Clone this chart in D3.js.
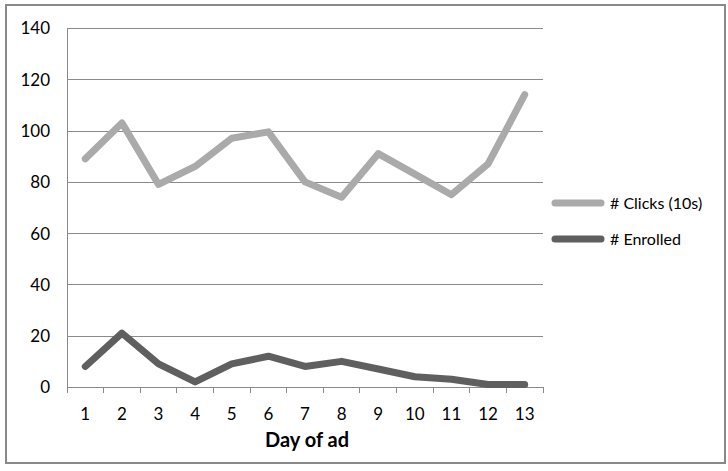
<!DOCTYPE html>
<html>
<head>
<meta charset="utf-8">
<script src="https://cdn.jsdelivr.net/npm/d3@7"></script>
<style>
  body { margin: 0; background: #fff; }
  svg text { font-family: Lato, "Open Sans", sans-serif; fill: #000; }
</style>
</head>
<body>
<div id="graf"></div>
<script>
// Datos
const days = [1, 2, 3, 4, 5, 6, 7, 8, 9, 10, 11, 12, 13];
const clicks = [89, 103, 79, 86, 97, 99.5, 80, 74, 91, 83, 75, 87, 114];
const enrolled = [8, 21, 9, 2, 9, 12, 8, 10, 7, 4, 3, 1, 1];
const yTicks = [0, 20, 40, 60, 80, 100, 120, 140];
const seriesNames = ["# Clicks (10s)", "# Enrolled"];
const seriesColors = ["#aaaaaa", "#5f5f5f"];

const anchoTotal = 728, altoTotal = 471;
const plot = { left: 67, right: 543, top: 28, bottom: 387 };

const svg = d3.select("#graf").append("svg")
  .attr("width", anchoTotal)
  .attr("height", altoTotal);

// Marco
svg.append("rect")
  .attr("x", 6).attr("y", 5)
  .attr("width", 719).attr("height", 458)
  .attr("fill", "#fff")
  .attr("stroke", "#898989")
  .attr("stroke-width", 2);

// Escaladores
const x = d3.scaleBand().domain(days).range([plot.left, plot.right]);
const y = d3.scaleLinear().domain([0, 140]).range([plot.bottom, plot.top]);

// Grid + eje Y
const yAxis = d3.axisLeft(y).tickValues(yTicks).tickSize(-(plot.right - plot.left)).tickPadding(17);
const gy = svg.append("g").attr("transform", `translate(${plot.left},0)`).call(yAxis);
gy.select(".domain").remove();
gy.selectAll(".tick line").attr("stroke", "#8a8a8a").attr("stroke-width", 1).attr("shape-rendering", "crispEdges");
gy.selectAll(".tick text").style("font-size", "17px").attr("dy", "0.35em");

// Eje vertical
svg.append("line")
  .attr("x1", plot.left).attr("x2", plot.left)
  .attr("y1", plot.top).attr("y2", plot.bottom + 6)
  .attr("stroke", "#8a8a8a").attr("shape-rendering", "crispEdges");

// Eje X (marcas en los limites de categoria)
const bounds = days.map(d => x(d)).concat([plot.right]);
svg.append("g").selectAll("line").data(bounds).join("line")
  .attr("x1", d => d).attr("x2", d => d)
  .attr("y1", plot.bottom).attr("y2", plot.bottom + 6)
  .attr("stroke", "#8a8a8a").attr("shape-rendering", "crispEdges");

svg.append("g").selectAll("text").data(days).join("text")
  .attr("x", d => x(d) + x.bandwidth() / 2)
  .attr("y", plot.bottom + 27)
  .attr("dy", "0.35em")
  .attr("text-anchor", "middle")
  .style("font-size", "17px")
  .text(d => d);

svg.append("text")
  .attr("x", 307).attr("y", 440)
  .attr("dy", "0.35em")
  .attr("text-anchor", "middle")
  .style("font-size", "20px")
  .style("font-weight", "bold")
  .text("Day of ad");

// Lineas
const line = d3.line()
  .x((d, i) => x(days[i]) + x.bandwidth() / 2)
  .y(d => y(d));

[clicks, enrolled].forEach((serie, i) => {
  svg.append("path")
    .datum(serie)
    .attr("d", line)
    .attr("fill", "none")
    .attr("stroke", seriesColors[i])
    .attr("stroke-width", 7)
    .attr("stroke-linecap", "round")
    .attr("stroke-linejoin", "round");
});

// Leyenda
const legend = svg.append("g").selectAll("g").data(seriesNames).join("g")
  .attr("transform", (d, i) => `translate(555, ${203 + i * 36})`);
legend.append("line")
  .attr("x1", 0).attr("x2", 46)
  .attr("stroke", (d, i) => seriesColors[i])
  .attr("stroke-width", 7)
  .attr("stroke-linecap", "round");
legend.append("text")
  .attr("x", 55)
  .attr("dy", "0.35em")
  .style("font-size", "16px")
  .text(d => d);
</script>
</body>
</html>
